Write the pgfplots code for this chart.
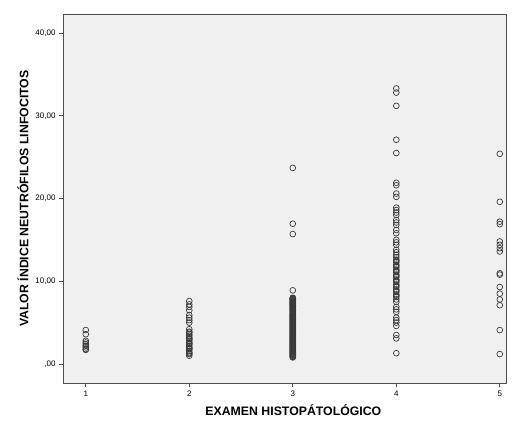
\documentclass[border=0pt]{standalone}
\usepackage{pgfplots}
\pgfplotsset{compat=1.18}
\usepackage{fontspec}
\setmainfont{Liberation Sans}
\definecolor{bgc}{HTML}{F0F0F0}
\definecolor{mk}{HTML}{3A3A3A}
\begin{document}
\begin{tikzpicture}
\useasboundingbox (-63pt,-38pt) rectangle (450pt,383pt);
\begin{axis}[
  at={(0,0)}, anchor=south west,
  scale only axis, width=443pt, height=369pt,
  xmin=0.78, xmax=5.06, ymin=-2.3, ymax=42.3,
  axis background/.style={fill=bgc},
  axis line style={draw=black!70, line width=0.6pt},
  xtick={1,2,3,4,5},
  ytick={0,10,20,30,40},
  yticklabels={{,00},{10,00},{20,00},{30,00},{40,00}},
  tick align=outside, tick pos=left,
  major tick length=4pt,
  tick style={black!70, line width=0.6pt},
  ticklabel style={font=\fontsize{8}{9}\selectfont},
  xlabel={\textbf{EXAMEN HISTOPÁTOLÓGICO}},
  ylabel={\textbf{VALOR ÍNDICE NEUTRÓFILOS LINFOCITOS}},
  label style={font=\fontsize{12.3}{14}\selectfont},
  xlabel style={at={(ticklabel cs:0.52)}, anchor=north, yshift=-2pt},
  ylabel style={yshift=0pt},
  /pgf/number format/assume math mode=true,
]
\addplot[only marks, mark=o, mark size=2.9pt, mk, mark options={line width=0.7pt}] table[row sep=\\] {
x y\\
1 4.1\\ 1 3.6\\ 1 2.8\\ 1 2.6\\ 1 2.4\\ 1 2.2\\ 1 2.0\\ 1 1.8\\ 1 1.7\\
2 7.6\\ 2 7.2\\ 2 6.9\\ 2 6.5\\ 2 5.9\\ 2 5.6\\ 2 5.3\\ 2 5.0\\ 2 4.2\\ 2 3.9\\ 2 3.8\\ 2 3.6\\ 2 3.4\\ 2 3.2\\ 2 3.0\\ 2 2.8\\ 2 2.6\\ 2 2.4\\ 2 2.2\\ 2 2.0\\ 2 1.8\\ 2 1.6\\ 2 1.4\\ 2 1.2\\ 2 1.0\\ 2 3.1\\ 2 2.5\\ 2 1.9\\ 2 1.3\\
3 23.7\\ 3 16.95\\ 3 15.7\\ 3 8.9\\
3 8.0\\ 3 7.9\\ 3 7.8\\ 3 7.7\\ 3 7.6\\ 3 7.5\\ 3 7.4\\ 3 7.3\\ 3 7.2\\ 3 7.1\\ 3 7.0\\ 3 6.9\\ 3 6.8\\ 3 6.7\\ 3 6.6\\ 3 6.5\\ 3 6.4\\ 3 6.3\\ 3 6.2\\ 3 6.1\\ 3 6.0\\ 3 5.9\\ 3 5.8\\ 3 5.7\\ 3 5.6\\ 3 5.5\\ 3 5.4\\ 3 5.3\\ 3 5.2\\ 3 5.1\\ 3 5.0\\ 3 4.9\\ 3 4.8\\ 3 4.7\\ 3 4.6\\ 3 4.5\\ 3 4.4\\ 3 4.3\\ 3 4.2\\ 3 4.1\\ 3 4.0\\ 3 3.9\\ 3 3.8\\ 3 3.7\\ 3 3.6\\ 3 3.5\\ 3 3.4\\ 3 3.3\\ 3 3.2\\ 3 3.1\\ 3 3.0\\ 3 2.9\\ 3 2.8\\ 3 2.7\\ 3 2.6\\ 3 2.5\\ 3 2.4\\ 3 2.3\\ 3 2.2\\ 3 2.1\\ 3 2.0\\ 3 1.9\\ 3 1.8\\ 3 1.7\\ 3 1.6\\ 3 1.5\\ 3 1.4\\ 3 1.3\\ 3 1.2\\ 3 1.1\\ 3 1.0\\ 3 0.9\\ 3 0.8\\
3 7.95\\ 3 7.85\\ 3 7.65\\ 3 7.45\\ 3 7.25\\ 3 7.05\\ 3 6.85\\ 3 6.65\\ 3 6.45\\ 3 6.05\\ 3 5.85\\ 3 5.65\\ 3 5.45\\ 3 5.25\\ 3 5.05\\ 3 4.85\\ 3 4.65\\ 3 4.45\\ 3 4.25\\ 3 4.05\\ 3 3.85\\ 3 3.65\\ 3 3.45\\ 3 3.25\\ 3 3.05\\ 3 2.85\\ 3 2.65\\ 3 2.45\\ 3 2.25\\ 3 2.05\\ 3 1.85\\ 3 1.65\\ 3 1.45\\ 3 1.25\\ 3 1.05\\ 3 0.85\\
4 33.3\\ 4 32.8\\ 4 31.2\\ 4 27.1\\ 4 25.5\\ 4 21.9\\ 4 21.6\\ 4 20.6\\ 4 20.2\\ 4 18.9\\ 4 18.6\\ 4 18.3\\ 4 18.0\\ 4 17.4\\ 4 17.1\\ 4 16.8\\ 4 16.2\\ 4 15.8\\ 4 15.0\\ 4 14.7\\ 4 14.4\\ 4 13.8\\ 4 13.5\\ 4 13.2\\ 4 12.9\\ 4 12.6\\ 4 12.3\\ 4 12.0\\ 4 11.7\\ 4 11.4\\ 4 11.1\\ 4 10.8\\ 4 10.5\\ 4 10.2\\ 4 9.9\\ 4 9.6\\ 4 9.3\\ 4 9.0\\ 4 8.7\\ 4 8.4\\ 4 8.1\\ 4 7.8\\ 4 7.5\\ 4 6.9\\ 4 6.6\\ 4 6.3\\ 4 5.6\\ 4 5.3\\ 4 5.0\\ 4 4.6\\ 4 3.5\\ 4 3.1\\ 4 1.3\\
4 12.45\\ 4 11.85\\ 4 11.25\\ 4 10.65\\ 4 10.05\\ 4 9.45\\ 4 8.85\\ 4 8.25\\
5 25.4\\ 5 19.6\\ 5 17.2\\ 5 16.9\\ 5 14.8\\ 5 14.4\\ 5 14.0\\ 5 13.6\\ 5 10.95\\ 5 10.8\\ 5 9.3\\ 5 8.5\\ 5 7.8\\ 5 7.1\\ 5 4.1\\ 5 1.2\\
};
\end{axis}
\end{tikzpicture}
\end{document}
